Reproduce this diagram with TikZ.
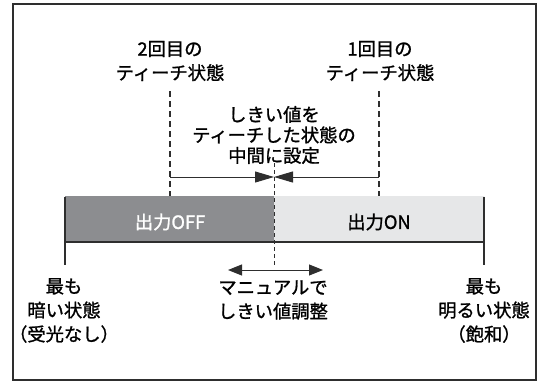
\documentclass[tikz,border=0pt]{standalone}
\usepackage{fontspec}
\setmainfont{Noto Sans CJK JP}
\newfontfamily\jpmed{Noto Sans CJK JP}[FakeBold=1.2]
\usetikzlibrary{arrows.meta}
\definecolor{darkbar}{HTML}{8C8D90}
\definecolor{lightbar}{HTML}{E6E7E8}
\definecolor{framec}{HTML}{2E2E2E}
\begin{document}
\begin{tikzpicture}[x=1pt,y=-1pt,
  lbl/.style={align=center,inner sep=0pt,font=\jpmed\fontsize{18.3}{24}\selectfont},
  lblmid/.style={align=center,inner sep=0pt,font=\jpmed\fontsize{18.3}{20.5}\selectfont},
  thickdash/.style={line width=2.8pt,dash pattern=on 6pt off 4pt,color=framec},
  thindash/.style={line width=1pt,dash pattern=on 4pt off 3pt,color=framec},
  endline/.style={line width=2.6pt,color=framec},
  arr/.style={line width=1pt,color=framec},
]
\useasboundingbox (0,0) rectangle (544,381);
% frame
\draw[line width=2pt,color=framec] (13,4) rectangle (536,379.5);
% bar
\fill[darkbar] (65,196) rectangle (274,242);
\fill[lightbar] (274,196) rectangle (484,242);
\draw[line width=2.2pt,color=framec] (65,242) -- (484,242);
\coordinate (lt) at (65,196.5);
\coordinate (lb) at (65,265);
\coordinate (rt) at (484,196.5);
\coordinate (rb) at (484,265);
\draw[endline] (lt) -- (lb);
\draw[endline] (rt) -- (rb);
% teach dashed lines
\coordinate (t2top) at (170,91);
\coordinate (t2bot) at (170,196);
\coordinate (t1top) at (379,91);
\coordinate (t1bot) at (379,196);
\draw[thickdash] (t2top) -- (t2bot);
\draw[thickdash] (t1top) -- (t1bot);
% centre threshold dashed line
\coordinate (ctop) at (274,163);
\coordinate (cbot) at (274,266);
\draw[thindash] (ctop) -- (cbot);
% arrows to middle
\coordinate (a2) at (170,177);
\coordinate (a1) at (379,177);
\coordinate (am) at (274,177);
\draw[arr,-{Triangle[length=19pt,width=11pt]}] (a2) -- (am);
\draw[arr,-{Triangle[length=19pt,width=11pt]}] (a1) -- (am);
% manual arrow
\coordinate (ml) at (228,270);
\coordinate (mr) at (323,270);
\draw[arr,{Triangle[length=14pt,width=11pt]}-{Triangle[length=14pt,width=11pt]}] (ml) -- (mr);
% labels
\node[lbl] (t2) at (170,61) {2回目の\\ティーチ状態};
\node[lbl] (t1) at (380,61) {1回目の\\ティーチ状態};
\node[lblmid] (mid) at (274,135) {しきい値を\\ティーチした状態の\\中間に設定};
\node[lbl,text=white] (off) at (170,222) {出力OFF};
\node[lbl] (on) at (379,222) {出力ON};
\node[lbl] (dark) at (64,310.5) {最も\\暗い状態\\（受光なし）};
\node[lbl] (bright) at (484,310.5) {最も\\明るい状態\\（飽和）};
\node[lbl] (manual) at (273,300) {マニュアルで\\しきい値調整};
\end{tikzpicture}
\end{document}
